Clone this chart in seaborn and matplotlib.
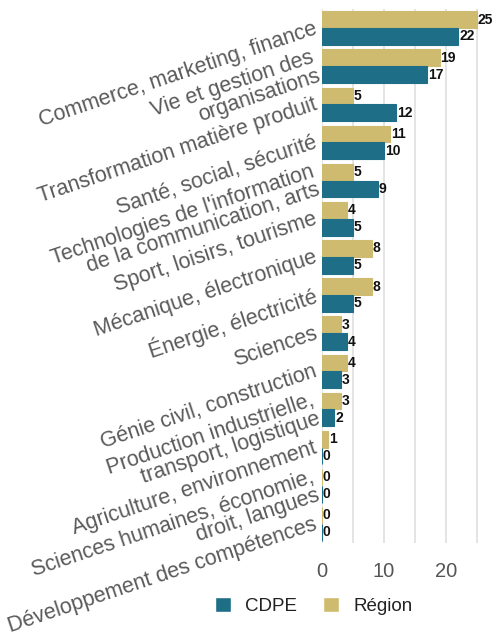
import matplotlib
matplotlib.use("Agg")
import matplotlib.pyplot as plt
from matplotlib.patches import Patch
import pandas as pd
import seaborn as sns

# Domaines de formation
categories = [
    "Commerce, marketing, finance",
    "Vie et gestion des\norganisations",
    "Transformation matière produit",
    "Santé, social, sécurité",
    "Technologies de l'information\nde la communication, arts",
    "Sport, loisirs, tourisme",
    "Mécanique, électronique",
    "Énergie, électricité",
    "Sciences",
    "Génie civil, construction",
    "Production industrielle,\ntransport, logistique",
    "Agriculture, environnement",
    "Sciences humaines, économie,\ndroit, langues",
    "Développement des compétences",
]
region = [25, 19, 5, 11, 5, 4, 8, 8, 3, 4, 3, 1, 0, 0]
cdpe = [22, 17, 12, 10, 9, 5, 5, 5, 4, 3, 2, 0, 0, 0]

series_order = ["Région", "CDPE"]
colors = {"CDPE": "#1d6e86", "Région": "#cfbb6f"}

df = pd.DataFrame({
    "domaine": categories * 2,
    "valeur": region + cdpe,
    "serie": ["Région"] * len(categories) + ["CDPE"] * len(categories),
})

sns.set_theme(style="white")
plt.rcParams["font.family"] = ["Liberation Sans", "DejaVu Sans"]

fig = plt.figure(figsize=(4.93, 6.38), dpi=100)
ax = fig.add_axes([0.653, 0.149, 0.327, 0.837])

sns.barplot(
    data=df, y="domaine", x="valeur", hue="serie", hue_order=series_order,
    order=categories, palette=colors, orient="h", width=0.88,
    saturation=1, legend=False, ax=ax,
)

for cont, name in zip(ax.containers, series_order):
    for bar in cont:
        bar.set_edgecolor(colors[name])
        bar.set_linewidth(0.8)
    ax.bar_label(cont, fmt="%d", padding=0.5, fontsize=10, fontweight="bold",
                 color="#111111", clip_on=False)

ax.set_xlim(0, 26)
ax.set_ylim(len(categories) - 0.5, -0.5)
ax.set_xticks([0, 10, 20])
ax.set_xticks([5, 15, 25], minor=True)
ax.grid(axis="x", which="both", color="#e4e4e4", linewidth=1.4)
ax.set_axisbelow(True)
for s in ax.spines.values():
    s.set_visible(False)

ax.set_xlabel("")
ax.set_ylabel("")
ax.tick_params(axis="x", which="both", length=0, pad=14, labelsize=14.5,
               labelcolor="#555555")
ax.tick_params(axis="y", length=0, pad=4, labelsize=15.5, labelcolor="#5a5a5a")
for lab in ax.get_yticklabels():
    lab.set_rotation(18.5)
    lab.set_rotation_mode("anchor")
    lab.set_ha("right")
    lab.set_va("center")
    lab.set_multialignment("right")
    lab.set_linespacing(0.88)

handles = [Patch(facecolor=colors["CDPE"], label="CDPE"),
           Patch(facecolor=colors["Région"], label="Région")]
fig.legend(handles=handles, loc="center", bbox_to_anchor=(0.636, 0.050),
           ncol=2, frameon=False, fontsize=13.5, handlelength=0.85,
           handleheight=0.85, handletextpad=0.75, columnspacing=1.4,
           labelcolor="#222222")

fig.savefig("out.png", dpi=100)
